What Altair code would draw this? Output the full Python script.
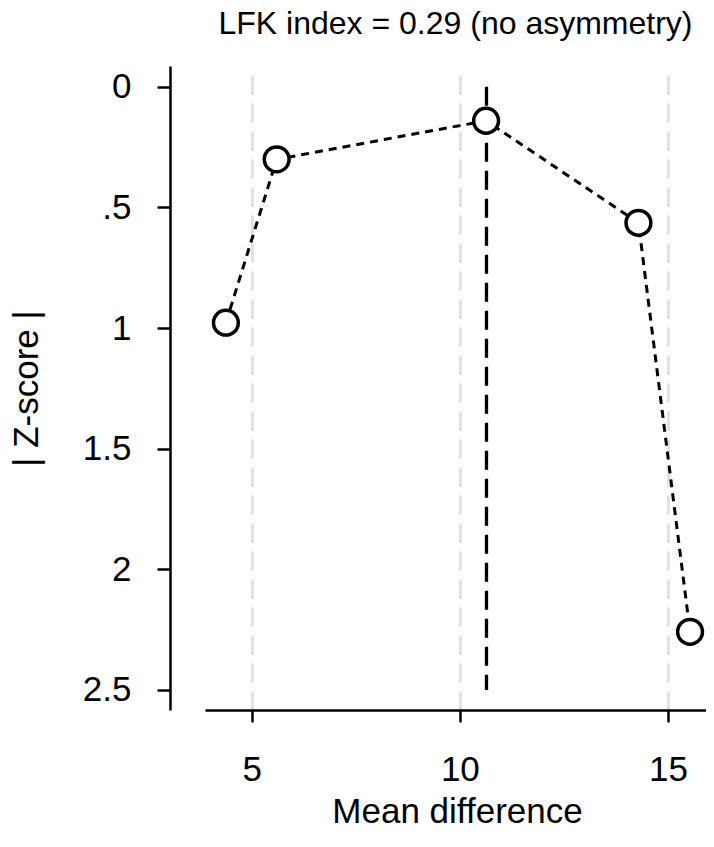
import altair as alt
import pandas as pd

# Data
mean_diff = [4.38, 5.60, 10.63, 14.29, 15.53]
abs_z = [0.978, 0.301, 0.141, 0.564, 2.259]
ref_x = [10.64]
ref_y0 = [0.0]
ref_y1 = [2.5]
x_ticks = [5, 10, 15]
y_ticks = [0, 0.5, 1, 1.5, 2, 2.5]
title_text = "LFK index = 0.29 (no asymmetry)"

pts = pd.DataFrame({"md": mean_diff, "z": abs_z})
ref = pd.DataFrame({"x": ref_x, "y0": ref_y0, "y1": ref_y1})

FONT = "Liberation Sans"

xscale = alt.Scale(domain=[3.878, 15.913], nice=False, zero=False)
yscale = alt.Scale(domain=[-0.0858, 2.583], nice=False, zero=False, reverse=True)

xaxis = alt.Axis(
    values=x_ticks, grid=True, gridDash=[19, 9], gridColor="#e2e2e2", gridWidth=3,
    tickSize=12, tickWidth=2.5, tickColor="black", domainColor="black", domainWidth=2.5,
    labelFont=FONT, labelFontSize=35, labelColor="black", labelPadding=30,
    title="Mean difference", titleFont=FONT, titleFontSize=35, titleFontWeight="normal",
    titleColor="black", titleBaseline="alphabetic", titleY=112, titleX=252,
)
yaxis = alt.Axis(
    values=y_ticks, grid=False, offset=35,
    labelExpr="datum.value == 0.5 ? '.5' : datum.value == 1.5 ? '1.5' : datum.value == 2.5 ? '2.5' : format(datum.value, 'd')",
    tickSize=13, tickWidth=2.5, tickColor="black", domainColor="black", domainWidth=2.5,
    labelFont=FONT, labelFontSize=35, labelColor="black", labelPadding=26,
    title="| Z-score |", titleFont=FONT, titleFontSize=35, titleFontWeight="normal",
    titleColor="black", titleBaseline="alphabetic", titleX=-133, titleY=322, titleAngle=270,
)

line = alt.Chart(pts).mark_line(
    color="black", strokeWidth=3, strokeDash=[8, 6]
).encode(
    x=alt.X("md:Q", scale=xscale, axis=xaxis),
    y=alt.Y("z:Q", scale=yscale, axis=yaxis),
    order="md:Q",
)

points = alt.Chart(pts).mark_point(
    shape="circle", filled=False, fill="white", fillOpacity=1, stroke="black",
    strokeWidth=3.5, size=616, opacity=1
).encode(
    x=alt.X("md:Q", scale=xscale),
    y=alt.Y("z:Q", scale=yscale),
)

rule = alt.Chart(ref).mark_rule(
    color="black", strokeWidth=3.3, strokeDash=[19, 9]
).encode(
    x=alt.X("x:Q", scale=xscale),
    y=alt.Y("y0:Q", scale=yscale),
    y2="y1:Q",
)

chart = alt.layer(rule, line, points).properties(
    width=501,
    height=644,
    background="white",
    title=alt.TitleParams(
        text=title_text, font=FONT, fontSize=32, fontWeight="normal", color="black",
        anchor="middle", frame="group", offset=25,
    ),
    autosize=alt.AutoSizeParams(type="none"),
    padding={"left": 197, "top": 58, "right": 0, "bottom": 129},
).configure_view(stroke="transparent", strokeWidth=0)

chart.save("out.html", embed_options={"renderer": "svg", "actions": False})
